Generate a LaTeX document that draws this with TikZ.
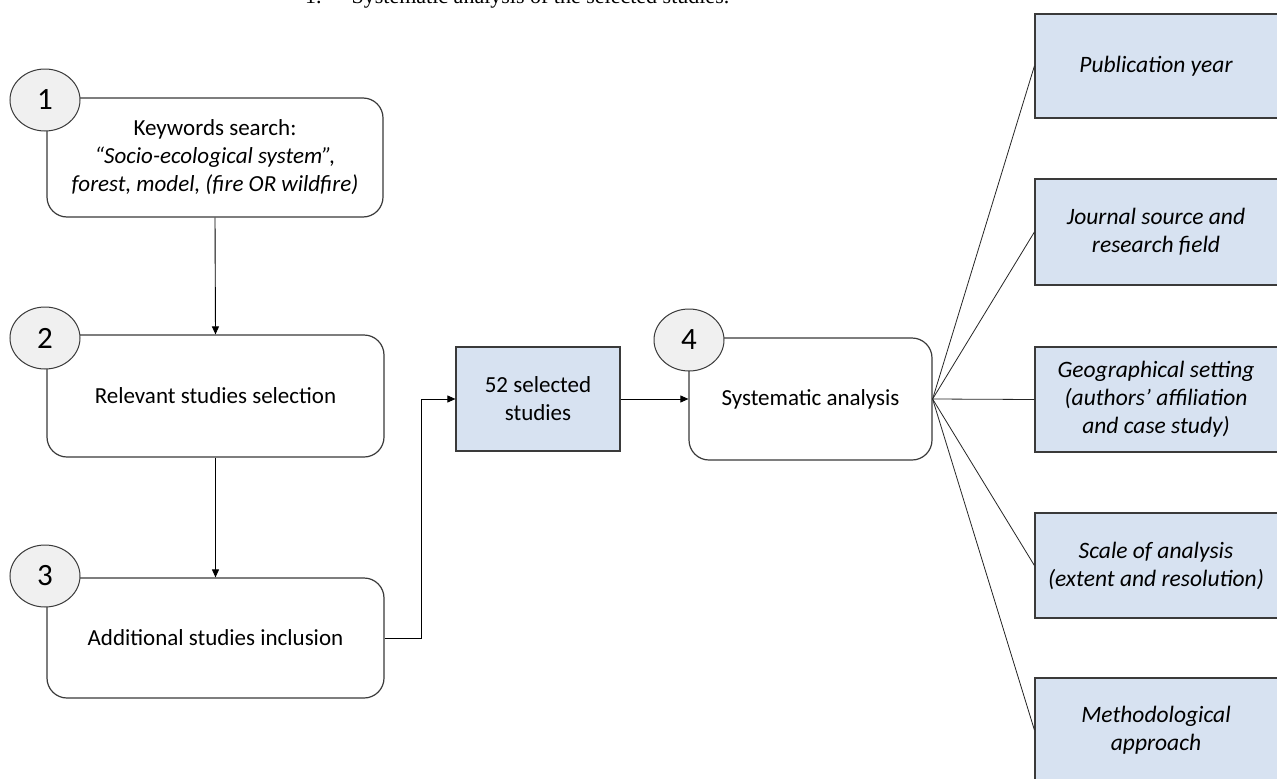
\documentclass[tikz,border=0pt]{standalone}
\usepackage{fontspec}
\setmainfont{Carlito}
\newfontfamily\topserif{Liberation Serif}
\usetikzlibrary{arrows.meta,shapes.geometric}
\definecolor{boxblue}{HTML}{D7E2F1}
\definecolor{circgray}{HTML}{F0F0F0}
\definecolor{edge}{HTML}{3A3A3A}
\tikzset{
  stepbox/.style={draw=edge, line width=1.2pt, rounded corners=20pt, fill=white, align=center,
    font=\fontsize{23}{28}\selectfont, inner sep=0pt},
  bluebox/.style={draw=edge, line width=1.2pt, fill=boxblue, align=center,
    font=\fontsize{23}{28}\selectfont, inner sep=0pt},
  itbox/.style={bluebox, font=\fontsize{23.5}{28}\selectfont\itshape},
  numcirc/.style={ellipse, draw=edge, line width=1pt, fill=circgray, minimum width=70pt,
    minimum height=62pt, inner sep=0pt, font=\fontsize{31}{31}\selectfont},
  arr/.style={draw=black, line width=0.9pt, -{Triangle[length=8pt,width=7pt]}},
  fan/.style={draw=black!85, line width=0.8pt}
}
\begin{document}
\begin{tikzpicture}[x=1pt,y=-1pt]
\useasboundingbox (0,0) rectangle (1277,779);
\fill[white] (0,0) rectangle (1277,779);
% top (cut-off) caption
\node[anchor=base west, inner sep=0pt, font=\topserif\fontsize{22}{26}\selectfont] (cap) at (305,4)
  {1.\hspace{30pt}Systematic analysis of the selected studies.};
% step boxes
\node[stepbox, minimum width=336pt, minimum height=119pt] (b1) at (215,157.5)
  {Keywords search:\\ \textit{``Socio-ecological system'',}\\ \textit{forest, model, (fire OR wildfire)}};
\node[stepbox, minimum width=337pt, minimum height=122pt] (b2) at (215.5,396) {Relevant studies selection};
\node[stepbox, minimum width=337pt, minimum height=120pt] (b3) at (215.5,638) {Additional studies inclusion};
\node[bluebox, minimum width=164pt, minimum height=104pt] (s52) at (538,399) {52 selected\\ studies};
\node[stepbox, minimum width=243pt, minimum height=122pt] (b4) at (810.5,399) {Systematic analysis};
% number circles
\node[numcirc] (c1) at (45,100) {1};
\node[numcirc] (c2) at (45,338) {2};
\node[numcirc] (c3) at (45,576) {3};
\node[numcirc] (c4) at (689,340) {4};
% right output boxes
\node[itbox, minimum width=266pt, minimum height=104pt] (r1) at (1168,66) {\hspace*{-24pt}Publication year};
\node[itbox, minimum width=266pt, minimum height=106pt] (r2) at (1168,232) {\hspace*{-24pt}Journal source and\\ \hspace*{-24pt}research field};
\node[itbox, minimum width=266pt, minimum height=105pt] (r3) at (1168,399.5) {\hspace*{-24pt}Geographical setting\\ \hspace*{-24pt}(authors' affiliation\\ \hspace*{-24pt}and case study)};
\node[itbox, minimum width=266pt, minimum height=105pt] (r4) at (1168,565.5) {\hspace*{-24pt}Scale of analysis\\ \hspace*{-24pt}(extent and resolution)};
\node[itbox, minimum width=266pt, minimum height=104pt] (r5) at (1168,730) {\hspace*{-24pt}Methodological\\ \hspace*{-24pt}approach};
% connectors
\draw[arr] (b1.south) -- (b2.north);
\draw[arr] (b2.south) -- (b3.north);
\coordinate (j) at (421,399);
\draw[arr] (b3.east) -| (j) -- (s52.west);
\draw[arr] (s52.east) -- (b4.west);
\foreach \r in {r1,r2,r3,r4,r5} \draw[fan] (b4.east) -- (\r.west);
\end{tikzpicture}
\end{document}
